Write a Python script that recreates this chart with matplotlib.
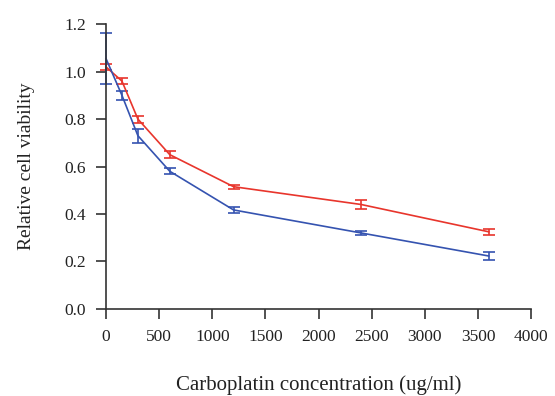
import matplotlib
matplotlib.use("Agg")
import matplotlib.pyplot as plt

# carboplatin dose (ug/ml) and relative viability, mean +- error
conc = [0, 150, 300, 600, 1200, 2400, 3600]
red_mean = [1.02, 0.96, 0.80, 0.65, 0.515, 0.44, 0.325]
red_err = [0.013, 0.012, 0.015, 0.015, 0.008, 0.018, 0.012]
blue_mean = [1.055, 0.90, 0.73, 0.58, 0.417, 0.32, 0.223]
blue_err = [0.108, 0.02, 0.03, 0.012, 0.012, 0.008, 0.017]

plt.rcParams['font.family'] = ['Liberation Serif', 'DejaVu Serif']

fig = plt.figure(figsize=(5.55, 3.96), dpi=100)
ax = fig.add_axes([0.191, 0.220, 0.766, 0.719])

for mean, err, col in [(red_mean, red_err, '#e8352c'), (blue_mean, blue_err, '#3553b0')]:
    lines = ax.errorbar(conc, mean, yerr=err, color=col, lw=1.2,
                        capsize=4.5, capthick=1.2, elinewidth=1.2)
    # let the marks at x=0 draw over the left spine
    for artist in lines.get_children():
        artist.set_clip_on(False)

ax.set_xlim(0, 4000)
ax.set_ylim(0, 1.2)
ax.set_xticks(range(0, 4001, 500))
yt = [0.0, 0.2, 0.4, 0.6, 0.8, 1.0, 1.2]
ax.set_yticks(yt)
ax.set_yticklabels([f"{v:.1f}" for v in yt])

for side in ['top', 'right']:
    ax.spines[side].set_visible(False)
for side in ['left', 'bottom']:
    ax.spines[side].set_color('#333333')
    ax.spines[side].set_linewidth(1.2)
ax.tick_params(direction='out', length=7.5, width=1.2, color='#333333',
               labelsize=12.5, labelcolor='#222222', pad=7)

ax.set_xlabel('Carboplatin concentration (ug/ml)', fontsize=15, labelpad=22,
              color='#222222')
ax.set_ylabel('Relative cell viability', fontsize=14, labelpad=21,
              color='#222222')

fig.savefig('out.png', dpi=100)
